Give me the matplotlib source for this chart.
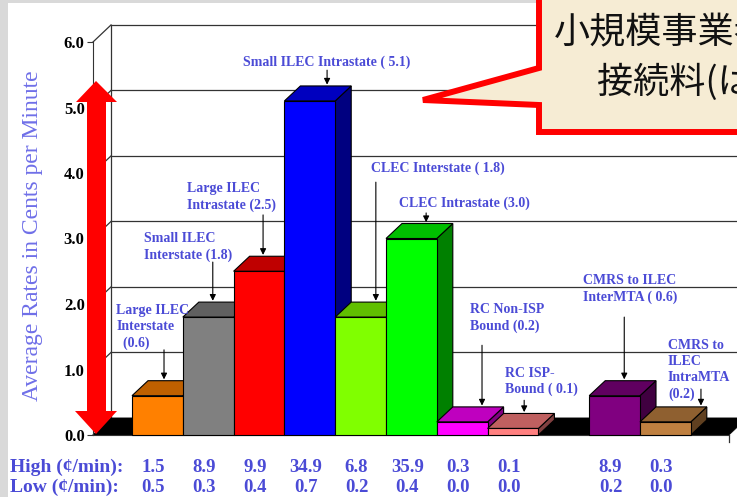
import matplotlib.pyplot as plt
from matplotlib.patches import Polygon, Rectangle

# average rates (cents per minute) and the high / low range for each category
categories = ['Large ILEC Interstate', 'Small ILEC Interstate', 'Large ILEC Intrastate',
              'Small ILEC Intrastate', 'CLEC Interstate', 'CLEC Intrastate',
              'RC Non-ISP Bound', 'RC ISP-Bound', 'CMRS to ILEC InterMTA',
              'CMRS to ILEC IntraMTA']
avg_rates = [0.6, 1.8, 2.5, 5.1, 1.8, 3.0, 0.2, 0.1, 0.6, 0.2]
high_rates = ['1.5', '8.9', '9.9', '34.9', '6.8', '35.9', '0.3', '0.1', '8.9', '0.3']
low_rates = ['0.5', '0.3', '0.4', '0.7', '0.2', '0.4', '0.0', '0.0', '0.2', '0.0']
bar_labels = ['Large ILEC\nInterstate\n  (0.6)', 'Small ILEC\nInterstate (1.8)',
              'Large ILEC\nIntrastate (2.5)', 'Small ILEC Intrastate ( 5.1)',
              'CLEC Interstate ( 1.8)', 'CLEC Intrastate (3.0)',
              'RC Non-ISP\nBound (0.2)', 'RC ISP-\nBound ( 0.1)',
              'CMRS to ILEC\nInterMTA ( 0.6)', 'CMRS to\nILEC\nIntraMTA\n(0.2)']
y_ticks = [0, 1, 2, 3, 4, 5, 6]

# slot 8 is left empty between the RC and CMRS groups
slots = [0, 1, 2, 3, 4, 5, 6, 7, 9, 10]
bar_colors = [(1.0, 0.5, 0.0), (0.5, 0.5, 0.5), (1.0, 0.0, 0.0), (0.0, 0.0, 1.0),
              (0.5, 1.0, 0.0), (0.0, 1.0, 0.0), (1.0, 0.0, 1.0), (1.0, 0.5, 0.5),
              (0.5, 0.0, 0.5), (0.75, 0.5, 0.25)]
label_pos = [(-0.31, 1.65), (0.24, 2.87), (1.08, 3.63), (2.19, 5.69), (4.70, 4.08),
             (5.26, 3.54), (6.65, 1.79), (7.34, 0.82), (8.88, 2.23), (10.55, 0.99)]
arrow_x = [0.63, 1.59, 2.58, 3.84, 4.80, 5.79, 6.89, 7.72, 9.69, 11.2]
arrow_tail = [1.30, 2.64, 3.36, 5.57, 3.86, 3.39, 1.37, 0.53, 1.80, 0.70]

W, H = 737, 497
label_color = '#4b4bd6'
serif = 'Liberation Serif'


def fig_xy(x, y):
    return x / W, 1 - y / H


fig = plt.figure(figsize=(W / 100, H / 100), dpi=100, facecolor='#d9d9d9')
fig.patches.append(Rectangle(fig_xy(8, 500), 1, 1, transform=fig.transFigure,
                             facecolor='white', edgecolor='none', zorder=-10))

ax = fig.add_axes([93 / W, 62 / H, 636 / W, 393 / H])
ax.patch.set_visible(False)
xl, xr = -0.768, 11.752
ax.set_xlim(xl, xr)
ax.set_ylim(0, 6)

# walls of the 3-D box
wdx, wdy = 0.354, 0.26
for k in y_ticks:
    ax.plot([xl + wdx, xr + 2], [k + wdy] * 2, color='#333333', lw=0.9, clip_on=False, zorder=1)
    ax.plot([xl, xl + wdx], [k, k + wdy], color='#333333', lw=0.9, clip_on=False, zorder=1)
ax.plot([xl + wdx] * 2, [wdy, 6 + wdy], color='#333333', lw=0.9, clip_on=False, zorder=1)
ax.add_patch(Polygon([(xl, 0), (xr, 0), (xr + wdx, wdy), (xl + wdx, wdy)],
                     facecolor='black', edgecolor='black', lw=0.5, clip_on=False, zorder=2))
ax.plot([xr, xr], [0, -0.1], color='#333333', lw=0.9, clip_on=False)

# 3-D bars: front, top and right side faces
dx, dy = 0.315, 0.229
for s, v, c in zip(slots, avg_rates, bar_colors):
    top = tuple(ch * 0.75 for ch in c)
    side = tuple(ch * 0.5 for ch in c)
    ax.add_patch(Polygon([(s + 1, 0), (s + 1 + dx, dy), (s + 1 + dx, v + dy), (s + 1, v)],
                         facecolor=side, edgecolor='black', lw=0.8, zorder=3, clip_on=False))
    ax.add_patch(Polygon([(s, v), (s + 1, v), (s + 1 + dx, v + dy), (s + dx, v + dy)],
                         facecolor=top, edgecolor='black', lw=0.8, zorder=3, clip_on=False))
    ax.add_patch(Rectangle((s, 0), 1, v, facecolor=c, edgecolor='black', lw=0.8,
                           zorder=3, clip_on=False))

# labels with pointer arrows
for s, v, lab, (tx, ty), axx, tail in zip(slots, avg_rates, bar_labels, label_pos,
                                          arrow_x, arrow_tail):
    ax.text(tx, ty, lab, ha='left', va='center', color=label_color, family=serif,
            fontweight='bold', fontsize=10, linespacing=1.3, zorder=5)
    ax.annotate('', xy=(axx, v + dy + 0.02), xytext=(axx, tail),
                arrowprops=dict(arrowstyle='-|>', color='black', lw=0.8,
                                mutation_scale=9, shrinkA=0, shrinkB=0), zorder=5)

for side in ['top', 'right']:
    ax.spines[side].set_visible(False)
ax.spines['left'].set_color('#333333')
ax.spines['bottom'].set_color('#333333')
ax.set_xticks([])
ax.set_yticks(y_ticks)
ax.set_yticklabels(['%.1f' % t for t in y_ticks], family=serif, fontweight='bold', fontsize=12)
ax.tick_params(axis='y', length=4, width=0.8, pad=2, color='#333333')

fig.text(*fig_xy(33, 236), 'Average Rates in Cents per Minute', rotation=90, ha='center',
         va='center', fontsize=17, color='#6f6fe8', family=serif)

# high / low range rows under the bars
for row, vals, ypix in [('High (¢/min):', high_rates, 467), ('Low (¢/min):', low_rates, 487)]:
    fig.text(*fig_xy(10, ypix), row, ha='left', va='center', fontsize=14,
             fontweight='bold', color=label_color, family=serif)
    for s, val in zip(slots, vals):
        ax.text(s + 0.42, (435 - ypix) / 393, val, transform=ax.get_xaxis_transform(),
                ha='center', va='center', fontsize=13.5, fontweight='bold',
                color=label_color, family=serif)

# red double arrow alongside the axis
arrow_pts = [(96, 81), (117, 102), (106, 102), (106, 411), (117, 411), (96, 434),
             (75, 411), (87, 411), (87, 102), (76, 102)]
fig.patches.append(Polygon([fig_xy(x, y) for x, y in arrow_pts], transform=fig.transFigure,
                           facecolor='#ff0000', edgecolor='none', zorder=6))

# speech balloon
balloon = [(539, -10), (770, -10), (770, 132), (539, 132), (539, 105), (423, 100), (539, 68)]
fig.patches.append(Polygon([fig_xy(x, y) for x, y in balloon], transform=fig.transFigure,
                           facecolor='#f6ecd4', edgecolor='#ff0000', lw=4.3,
                           joinstyle='miter', zorder=7))
fig.text(*fig_xy(554, 33), '小規模事業者の', ha='left', va='center', fontsize=26,
         family='Noto Sans CJK JP', color='#111111', zorder=8)
fig.text(*fig_xy(597, 82), '接続料(は高い)', ha='left', va='center', fontsize=26,
         family='Noto Sans CJK JP', color='#111111', zorder=8)

fig.savefig('out.png', dpi=100, facecolor=fig.get_facecolor())
